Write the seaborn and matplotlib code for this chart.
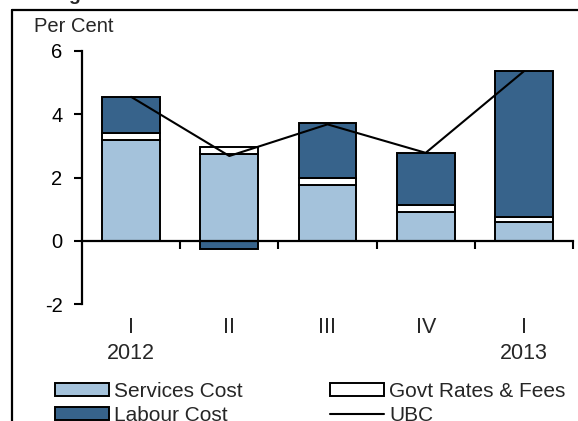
import numpy as np
import pandas as pd
import matplotlib
matplotlib.use("Agg")
import matplotlib.pyplot as plt
import seaborn as sns
from matplotlib.lines import Line2D
from matplotlib.patches import Patch

# ---- data ----
periods = ["2012Q1", "2012Q2", "2012Q3", "2012Q4", "2013Q1"]
tick_labels = ["I\n2012", "II", "III", "IV", "I\n2013"]
services_cost = [3.20, 2.75, 1.75, 0.92, 0.60]
govt_rates_fees = [0.20, 0.20, 0.25, 0.20, 0.15]
labour_cost = [1.15, -0.25, 1.73, 1.66, 4.62]
ubc = [4.55, 2.68, 3.68, 2.78, 5.36]

c_serv = "#A4C2DB"
c_lab = "#37638B"

sns.set_theme(style="white")
plt.rcParams["font.family"] = ["Liberation Sans", "DejaVu Sans"]

W, H = 578, 421
fig = plt.figure(figsize=(W / 100, H / 100), dpi=100)
ax = fig.add_axes([82 / W, 1 - 304 / H, 491 / W, 253 / H])

serv = np.array(services_cost)
gov = np.array(govt_rates_fees)
lab = np.array(labour_cost)
lab_bottom = np.where(lab >= 0, serv + gov, 0.0)

df = pd.DataFrame({"period": periods, "serv": serv, "gov": gov,
                   "lab": lab, "lab_bottom": lab_bottom,
                   "gov_bottom": serv})

bw = 0.59
ekw = dict(edgecolor="black", linewidth=1.4)
sns.barplot(data=df, x="period", y="serv", order=periods, color=c_serv,
            width=bw, saturation=1, ax=ax, **ekw)
sns.barplot(data=df, x="period", y="gov", order=periods, color="white",
            width=bw, saturation=1, bottom=df["gov_bottom"], ax=ax, **ekw)
sns.barplot(data=df, x="period", y="lab", order=periods, color=c_lab,
            width=bw, saturation=1, bottom=df["lab_bottom"], ax=ax, **ekw)
sns.lineplot(x=np.arange(len(periods)), y=ubc, color="black", linewidth=1.5,
             ax=ax, zorder=5)

ax.set_xlim(-0.5, 4.5)
ax.set_ylim(-2, 6)
ax.set_yticks([-2, 0, 2, 4, 6])
ax.set_yticklabels(["-2", "0", "2", "4", "6"], fontsize=14.5)
ax.set_xlabel("")
ax.set_ylabel("")

for s in ["top", "right"]:
    ax.spines[s].set_visible(False)
ax.spines["left"].set_linewidth(1.6)
ax.spines["bottom"].set_linewidth(1.6)
ax.spines["bottom"].set_position(("data", 0))
ax.spines["left"].set_color("black")
ax.spines["bottom"].set_color("black")

ax.tick_params(axis="y", direction="out", length=6, width=1.5, pad=8,
               colors="black", left=True)
ax.set_xticks(range(len(periods)))
ax.set_xticklabels(tick_labels, fontsize=15.5)
ax.set_xticks(np.arange(0.5, 5.0, 1.0), minor=True)
ax.tick_params(axis="x", which="major", length=0, pad=55, bottom=True)
ax.tick_params(axis="x", which="minor", direction="out", length=6,
               width=1.5, bottom=True, colors="black")
for t in ax.get_xticklabels():
    t.set_linespacing(1.3)
    t.set_verticalalignment("top")

fig.text(34 / W, 1 - 27 / H, "Per Cent", fontsize=14.5, va="center", ha="left")

# figure frame (cropped)
fig.add_artist(Line2D([12 / W, 1.0], [1 - 10 / H, 1 - 10 / H],
                      transform=fig.transFigure, color="black", linewidth=1.6))
fig.add_artist(Line2D([12 / W, 12 / W], [1 - 10 / H, 0.0],
                      transform=fig.transFigure, color="black", linewidth=1.6))
fig.text(74 / W, 1.0, "g", fontsize=14, fontweight="bold", ha="center",
         va="baseline")

handles = [Patch(facecolor=c_serv, edgecolor="black", linewidth=1.4),
           Patch(facecolor=c_lab, edgecolor="black", linewidth=1.4),
           Patch(facecolor="white", edgecolor="black", linewidth=1.4),
           Line2D([], [], color="black", linewidth=1.5)]
labels = ["Services Cost", "Labour Cost", "Govt Rates & Fees", "UBC"]
fig.legend(handles, labels, ncol=2, loc="upper left",
           bbox_to_anchor=(40 / W, 1 - 367 / H), frameon=False,
           fontsize=15, handlelength=2.6, handleheight=0.62,
           handletextpad=0.25, labelspacing=0.25, columnspacing=4.2,
           borderpad=0.2)

fig.savefig("out.png", dpi=100)
